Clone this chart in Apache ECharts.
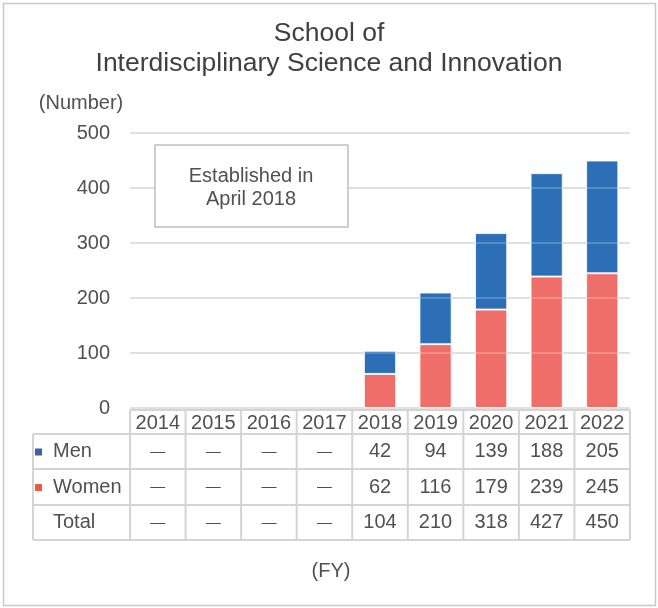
<!DOCTYPE html>
<html>
<head>
<meta charset="utf-8">
<script src="https://cdn.jsdelivr.net/npm/echarts@6/dist/echarts.min.js"></script>
<style>
  html, body { margin: 0; padding: 0; background: #fff; }
  #chart { width: 658px; height: 608px; }
</style>
</head>
<body>
<div id="chart"></div>
<script>
// data
const years = ['2014', '2015', '2016', '2017', '2018', '2019', '2020', '2021', '2022']
const men = [null, null, null, null, 42, 94, 139, 188, 205]
const women = [null, null, null, null, 62, 116, 179, 239, 245]
const total = [null, null, null, null, 104, 210, 318, 427, 450]
const yTicks = [0, 100, 200, 300, 400, 500]

const textColor = '#505050'
const lineColor = '#d4d4d4'
const font = 'Liberation Sans, Arial, sans-serif'
const fs = 20

const chart = echarts.init(document.getElementById('chart'))

chart.setOption({
  animation: false,
  textStyle: { fontFamily: font },
  title: {
    text: 'School of\nInterdisciplinary Science and Innovation',
    left: 'center',
    top: 14,
    textStyle: { fontSize: 26.5, fontWeight: 'normal', color: '#404040', lineHeight: 30, fontFamily: font }
  },
  grid: { left: 130, right: 28, top: 133, bottom: 200, containLabel: false },
  xAxis: {
    type: 'category',
    data: years,
    axisLine: { show: false },
    axisTick: { show: false },
    axisLabel: { show: false }
  },
  yAxis: [{
    type: 'value',
    min: yTicks[0],
    max: yTicks[yTicks.length - 1],
    interval: 100,
    axisLine: { show: false },
    axisTick: { show: false },
    axisLabel: { color: textColor, fontSize: fs, margin: 20 },
    splitLine: { lineStyle: { color: '#d9d9d9', width: 2 } }
  }, {
    // faint gridlines drawn over the bars
    type: 'value',
    position: 'left',
    min: yTicks[0],
    max: yTicks[yTicks.length - 1],
    interval: 100,
    z: 10,
    axisLine: { show: false },
    axisTick: { show: false },
    axisLabel: { show: false },
    splitLine: { lineStyle: { color: 'rgba(255,255,255,0.2)', width: 2 } }
  }],
  series: [{
    name: 'Women',
    type: 'bar',
    stack: 'total',
    barWidth: '58%',
    data: women,
    itemStyle: { color: '#f06e6a', borderColor: 'rgba(255,255,255,0.8)', borderWidth: 1 }
  }, {
    name: 'Men',
    type: 'bar',
    stack: 'total',
    barWidth: '58%',
    data: men,
    itemStyle: { color: '#2c6fb7', borderColor: 'rgba(255,255,255,0.8)', borderWidth: 1 }
  }]
})

// data table under the plot, columns follow the category axis
const cx = years.map((y, i) => chart.convertToPixel({ xAxisIndex: 0 }, i))
const colW = cx[1] - cx[0]
const bounds = [cx[0] - colW / 2].concat(cx.map(x => x + colW / 2))
const tableLeft = 33
const rowsY = [410, 434, 469, 505, 540]
const rows = [
  { label: 'Men', values: men, mark: '#3f60ae' },
  { label: 'Women', values: women, mark: '#ef5843' },
  { label: 'Total', values: total, mark: null }
]

const graphics = []
const line = (x1, y1, x2, y2, color, w) => ({
  type: 'line',
  shape: { x1, y1, x2, y2 },
  style: { stroke: color || lineColor, lineWidth: w || 2 },
  silent: true
})
const text = (x, y, str, opts) => ({
  type: 'text',
  x, y,
  style: Object.assign({
    text: str, fill: textColor, font: fs + 'px ' + font,
    align: 'center', verticalAlign: 'middle'
  }, opts || {}),
  silent: true
})

// outer frame
graphics.push({
  type: 'rect',
  shape: { x: 3.5, y: 3.5, width: 652, height: 602 },
  style: { fill: null, stroke: '#c9c9c9', lineWidth: 1.5 },
  silent: true
})

// table lines
graphics.push(line(bounds[0], rowsY[0], bounds[bounds.length - 1], rowsY[0]))
for (let r = 1; r < rowsY.length; r++) {
  graphics.push(line(tableLeft, rowsY[r], bounds[bounds.length - 1], rowsY[r]))
}
graphics.push(line(tableLeft, rowsY[1], tableLeft, rowsY[4]))
bounds.forEach(b => graphics.push(line(b, rowsY[0], b, rowsY[4])))

// header row
years.forEach((y, i) => graphics.push(text(cx[i], (rowsY[0] + rowsY[1]) / 2 + 1, y)))

// value rows
rows.forEach((row, r) => {
  const yc = (rowsY[r + 1] + rowsY[r + 2]) / 2
  if (row.mark) {
    graphics.push({
      type: 'rect',
      shape: { x: 35, y: yc - 3, width: 7, height: 7 },
      style: { fill: row.mark },
      silent: true
    })
  }
  graphics.push(text(53, yc, row.label, { align: 'left' }))
  row.values.forEach((v, i) => {
    if (v == null) {
      graphics.push(text(cx[i], yc, '—', { font: '15px ' + font }))
    } else {
      graphics.push(text(cx[i], yc, String(v)))
    }
  })
})

// axis unit labels
graphics.push(text(81, 103, '(Number)'))
graphics.push(text(331, 571, '(FY)'))

// annotation box
graphics.push({
  type: 'rect',
  shape: { x: 155, y: 145, width: 193, height: 82 },
  style: { fill: '#fff', stroke: '#bfbfbf', lineWidth: 1.5 },
  z: 20,
  silent: true
})
graphics.push(Object.assign(text(251, 176, 'Established in'), { z: 21 }))
graphics.push(Object.assign(text(251, 199, 'April 2018'), { z: 21 }))

chart.setOption({ graphic: graphics })
</script>
</body>
</html>
